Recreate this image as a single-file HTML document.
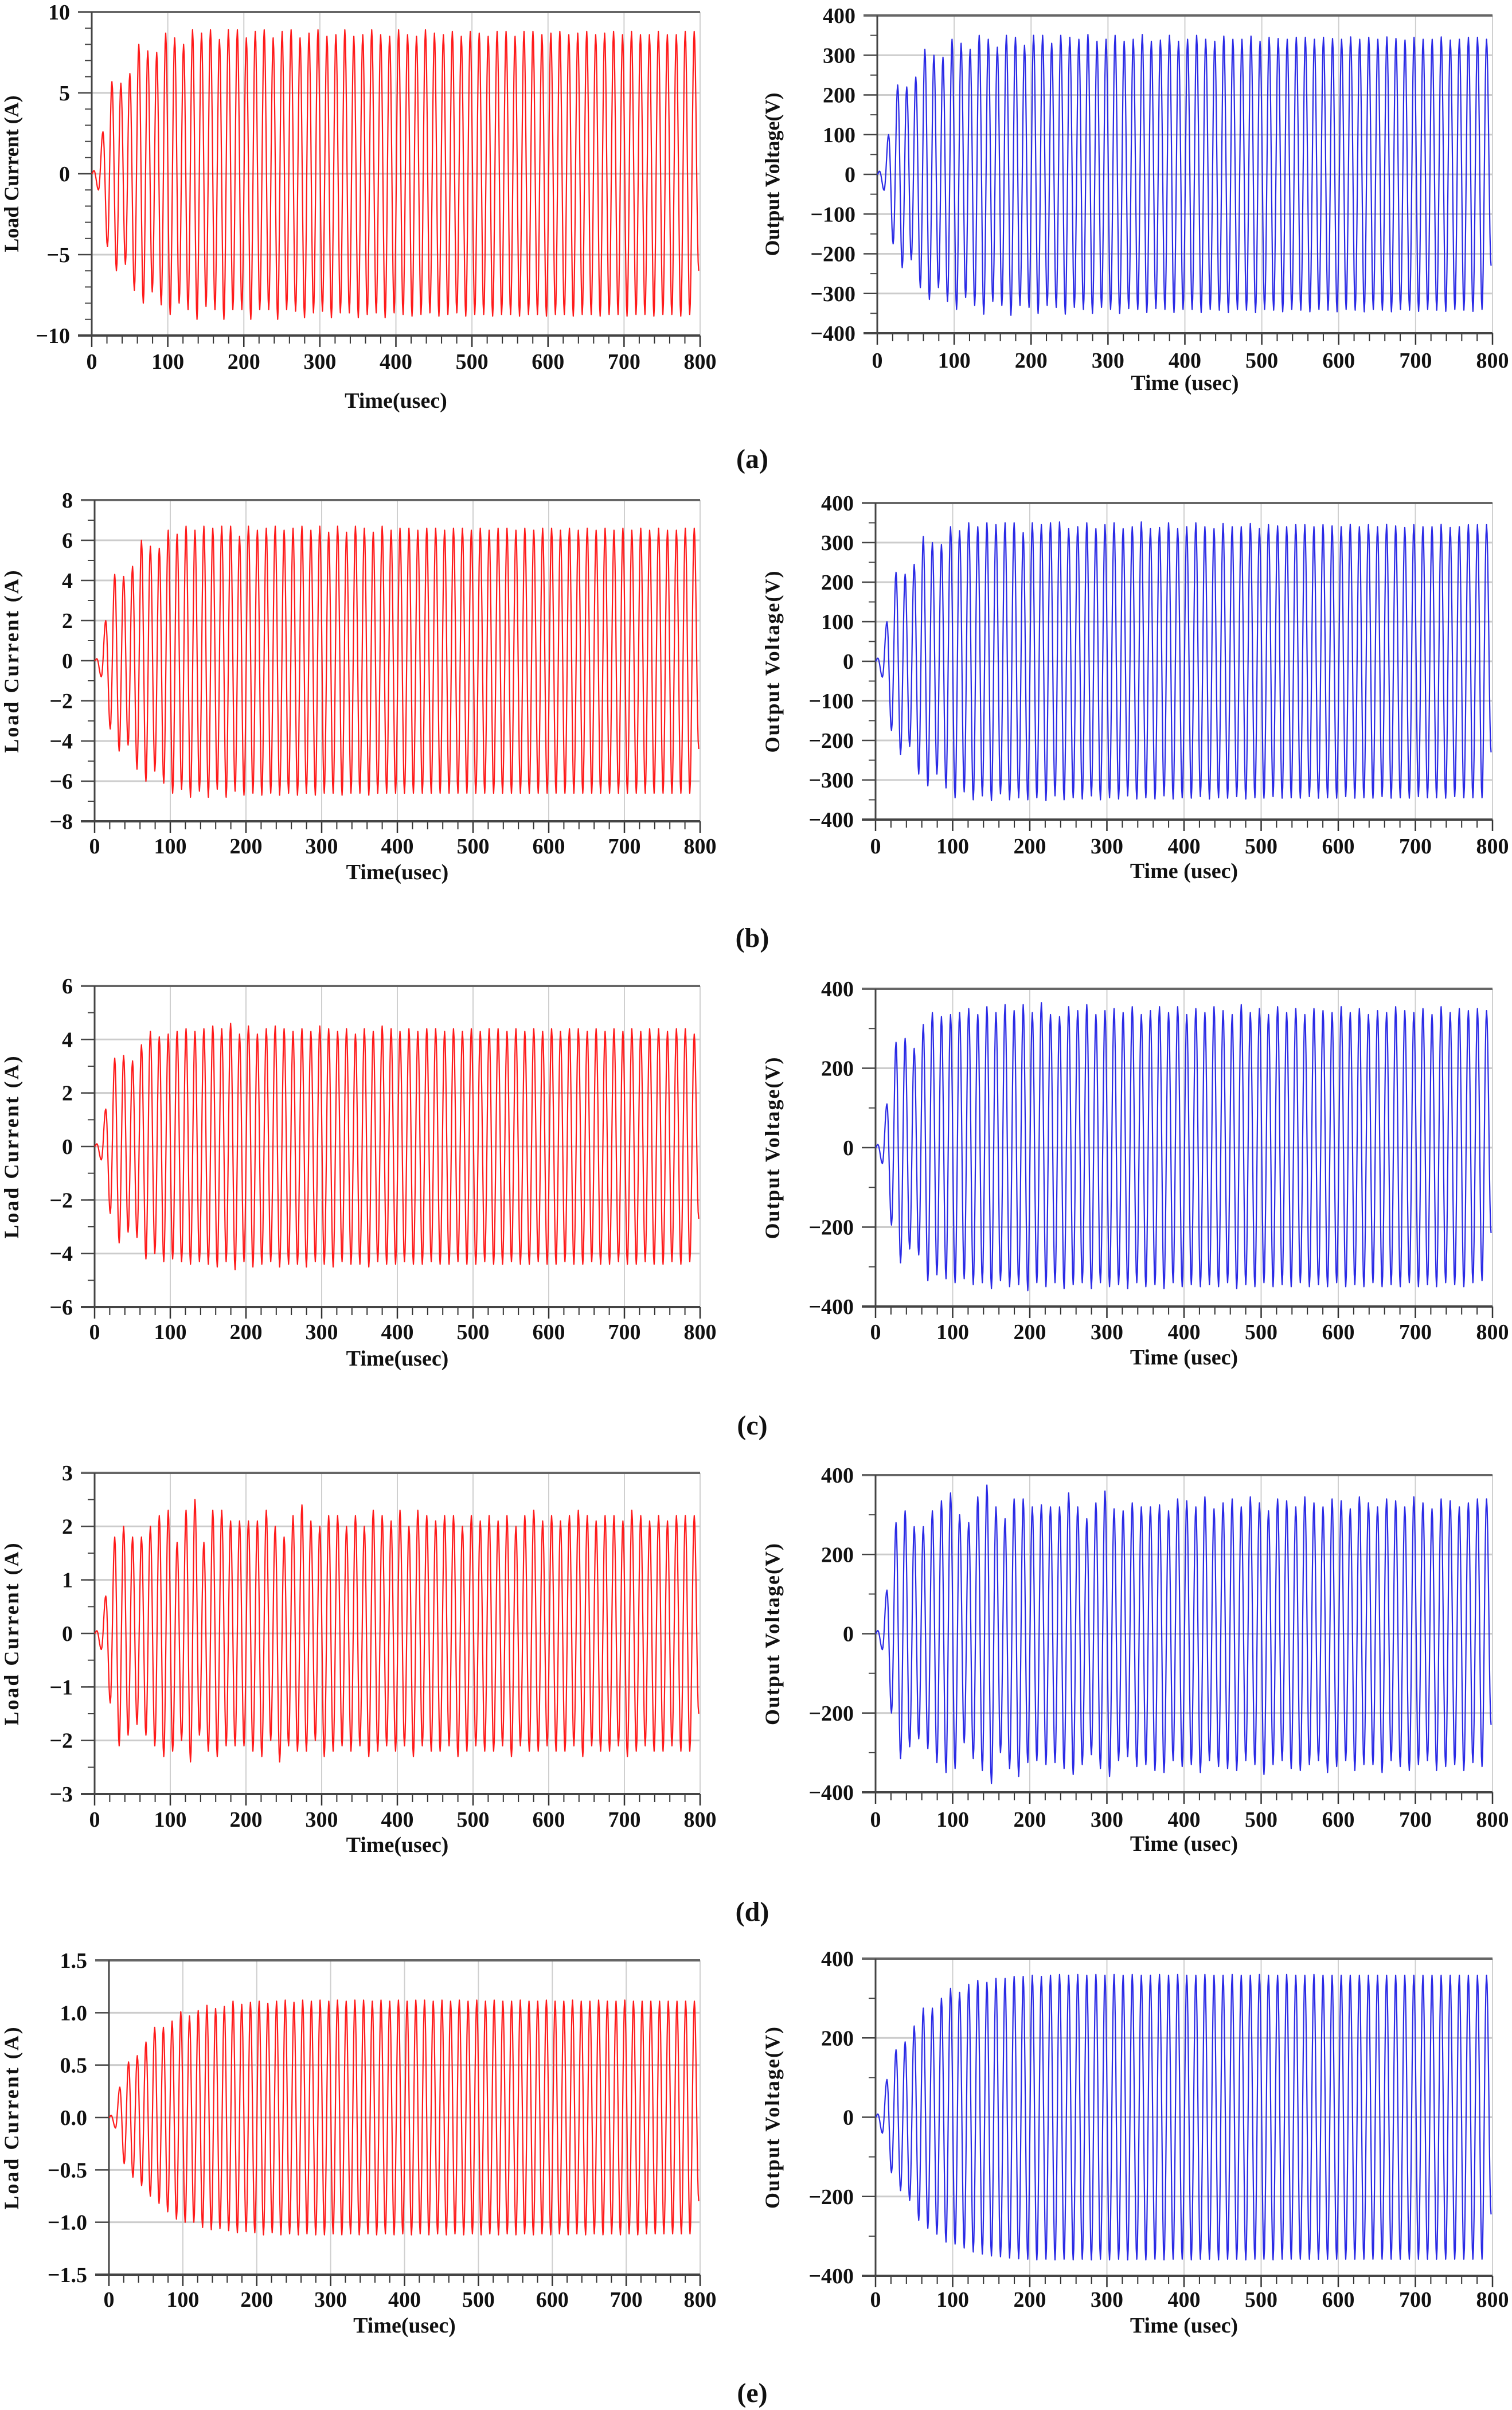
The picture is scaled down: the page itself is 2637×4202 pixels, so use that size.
<!DOCTYPE html>
<html><head><meta charset="utf-8"><style>
html,body{margin:0;padding:0;background:#fff;}
svg{display:block;}
text{font-family:"Liberation Serif",serif;font-weight:bold;fill:#111;}
</style></head><body>
<svg id="fig" width="2637" height="4202" viewBox="0 0 2637 4202" xmlns="http://www.w3.org/2000/svg"></svg>
<script>
// ---- data: per-cycle positive / negative peak values ----
const timeTicks = [0,100,200,300,400,500,600,700,800];
const aCurPos = [0.2,2.6,5.7,5.6,6.2,8.0,7.6,7.5,8.7,8.4,8.0,8.9,8.7,8.9,8.3,8.9,8.9,8.4,8.8,8.9,8.4,8.8,8.9,8.4,8.7,8.9,8.5,8.6,8.9,8.5,8.6,8.9,8.6,8.5,8.9,8.6,8.5,8.9,8.7,8.6,8.8,8.5,8.8,8.7,8.5,8.8,8.8,8.5,8.8,8.8,8.6,8.7,8.8,8.6,8.7,8.8,8.6,8.7,8.8,8.6,8.8,8.6,8.6,8.8,8.6,8.6,8.8,8.8];
const aCurNeg = [-1.0,-4.5,-6.0,-5.6,-7.2,-8.0,-7.3,-8.1,-8.7,-8.0,-8.4,-9.0,-8.2,-8.4,-9.0,-8.4,-8.4,-9.0,-8.4,-8.4,-9.0,-8.4,-8.5,-8.9,-8.6,-8.5,-8.9,-8.6,-8.6,-8.9,-8.7,-8.6,-8.9,-8.6,-8.7,-8.8,-8.7,-8.6,-8.8,-8.7,-8.6,-8.8,-8.7,-8.7,-8.8,-8.7,-8.7,-8.8,-8.7,-8.7,-8.8,-8.7,-8.7,-8.8,-8.7,-8.7,-8.8,-8.7,-8.7,-8.8,-8.7,-8.7,-8.8,-8.7,-8.7,-8.8,-8.7,-6.0];
const aVolPos = [8,100,225,220,245,315,300,295,340,330,315,350,340,320,350,345,325,350,350,330,350,345,340,352,335,340,350,335,340,352,335,338,350,335,340,350,340,335,348,340,340,348,335,345,342,340,345,345,340,345,342,340,346,340,345,340,346,342,338,345,340,340,346,338,340,345,345,340];
const aVolNeg = [-40,-175,-235,-215,-285,-315,-285,-320,-340,-310,-330,-352,-320,-330,-355,-330,-335,-350,-330,-335,-352,-335,-340,-350,-335,-340,-350,-338,-340,-348,-338,-340,-348,-340,-340,-348,-340,-342,-348,-340,-342,-348,-340,-342,-346,-340,-342,-346,-340,-342,-346,-340,-342,-346,-340,-342,-346,-340,-342,-345,-340,-342,-345,-340,-342,-345,-340,-230];
const bCurPos = [0.1,2.0,4.3,4.2,4.7,6.0,5.7,5.6,6.5,6.3,6.7,6.5,6.7,6.6,6.7,6.7,6.2,6.7,6.5,6.6,6.7,6.5,6.6,6.7,6.5,6.7,6.4,6.7,6.4,6.7,6.6,6.4,6.7,6.5,6.6,6.6,6.5,6.6,6.6,6.5,6.6,6.6,6.5,6.6,6.5,6.6,6.6,6.5,6.6,6.5,6.6,6.6,6.5,6.6,6.5,6.6,6.5,6.6,6.5,6.6,6.5,6.6,6.5,6.6,6.5,6.5,6.6,6.6];
const bCurNeg = [-0.8,-3.4,-4.5,-4.2,-5.4,-6.0,-5.5,-6.1,-6.6,-6.4,-6.8,-6.5,-6.8,-6.4,-6.8,-6.5,-6.7,-6.6,-6.7,-6.6,-6.7,-6.6,-6.7,-6.6,-6.7,-6.6,-6.6,-6.7,-6.6,-6.6,-6.7,-6.6,-6.6,-6.6,-6.6,-6.6,-6.6,-6.6,-6.6,-6.6,-6.6,-6.6,-6.6,-6.6,-6.6,-6.6,-6.6,-6.6,-6.6,-6.6,-6.6,-6.6,-6.6,-6.6,-6.6,-6.6,-6.6,-6.6,-6.6,-6.6,-6.6,-6.6,-6.6,-6.6,-6.6,-6.6,-6.6,-4.4];
const bVolPos = [8,100,225,220,245,315,300,295,340,330,350,340,350,345,350,350,325,350,345,350,352,335,340,350,335,345,350,335,340,352,335,338,350,335,340,350,340,335,348,340,340,348,335,345,342,340,345,345,340,345,342,340,346,340,345,340,346,342,338,345,340,340,346,338,340,345,345,345];
const bVolNeg = [-40,-175,-235,-215,-285,-315,-285,-320,-345,-330,-350,-340,-352,-335,-350,-345,-350,-345,-352,-340,-350,-345,-348,-340,-350,-345,-348,-340,-348,-345,-348,-340,-348,-345,-346,-342,-348,-345,-346,-342,-348,-345,-346,-342,-346,-345,-346,-342,-346,-345,-346,-342,-346,-345,-346,-342,-346,-345,-346,-342,-345,-345,-346,-342,-345,-345,-345,-230];
const cCurPos = [0.1,1.4,3.3,3.4,3.2,3.8,4.3,4.1,4.2,4.3,4.4,4.3,4.4,4.5,4.4,4.6,4.2,4.5,4.2,4.4,4.5,4.4,4.3,4.4,4.3,4.5,4.4,4.3,4.4,4.2,4.4,4.3,4.5,4.4,4.3,4.4,4.3,4.4,4.4,4.3,4.4,4.3,4.4,4.3,4.4,4.4,4.3,4.4,4.3,4.4,4.3,4.4,4.3,4.4,4.4,4.3,4.4,4.3,4.4,4.3,4.4,4.3,4.4,4.4,4.3,4.4,4.4,4.2];
const cCurNeg = [-0.5,-2.5,-3.6,-3.2,-3.4,-4.2,-4.0,-4.3,-4.2,-4.3,-4.4,-4.3,-4.4,-4.5,-4.3,-4.6,-4.3,-4.5,-4.4,-4.3,-4.5,-4.4,-4.4,-4.5,-4.3,-4.4,-4.5,-4.3,-4.4,-4.4,-4.5,-4.3,-4.4,-4.4,-4.3,-4.4,-4.4,-4.3,-4.4,-4.4,-4.3,-4.4,-4.4,-4.3,-4.4,-4.4,-4.3,-4.4,-4.4,-4.3,-4.4,-4.4,-4.3,-4.4,-4.4,-4.3,-4.4,-4.4,-4.3,-4.4,-4.4,-4.3,-4.4,-4.4,-4.3,-4.4,-4.3,-2.7];
const cVolPos = [8,110,265,275,250,310,340,330,335,340,350,335,355,340,360,345,360,340,365,335,330,355,345,360,335,345,350,340,355,335,345,355,340,355,335,350,340,355,345,335,360,340,350,335,355,340,350,335,350,345,340,355,340,350,335,345,340,355,345,340,350,335,355,340,350,345,350,345];
const cVolNeg = [-40,-195,-290,-255,-270,-335,-320,-330,-340,-330,-345,-340,-355,-335,-350,-345,-360,-340,-350,-340,-355,-345,-340,-355,-340,-350,-345,-355,-340,-350,-345,-355,-340,-350,-345,-350,-345,-350,-340,-355,-345,-350,-340,-350,-345,-350,-340,-350,-345,-350,-340,-350,-345,-350,-340,-350,-345,-350,-340,-350,-345,-350,-340,-345,-350,-340,-335,-215];
const dCurPos = [0.05,0.7,1.8,2.0,1.8,1.8,2.0,2.2,2.3,1.7,2.3,2.5,1.7,2.3,2.3,2.1,2.1,2.1,2.1,2.3,2.0,1.8,2.2,2.4,2.1,2.0,2.2,2.2,2.0,2.2,2.0,2.3,2.2,2.1,2.3,2.0,2.3,2.2,2.1,2.2,2.2,2.0,2.2,2.1,2.2,2.1,2.2,2.0,2.2,2.3,2.1,2.2,2.1,2.2,2.3,2.2,2.1,2.2,2.2,2.1,2.3,2.2,2.1,2.2,2.1,2.2,2.2,2.2];
const dCurNeg = [-0.3,-1.3,-2.1,-1.9,-1.7,-1.9,-2.1,-2.3,-2.2,-2.0,-2.4,-1.9,-2.2,-2.3,-2.1,-2.1,-2.1,-2.2,-2.3,-2.0,-2.4,-2.1,-2.2,-2.2,-2.0,-2.3,-2.2,-2.1,-2.2,-2.1,-2.3,-2.2,-2.1,-2.2,-2.1,-2.3,-2.1,-2.2,-2.2,-2.1,-2.3,-2.2,-2.1,-2.2,-2.2,-2.1,-2.3,-2.1,-2.2,-2.2,-2.1,-2.2,-2.2,-2.1,-2.3,-2.1,-2.2,-2.2,-2.1,-2.3,-2.2,-2.1,-2.2,-2.2,-2.1,-2.2,-2.2,-1.5];
const dVolPos = [8,110,280,310,270,270,310,335,355,300,280,345,375,320,290,340,340,320,325,320,320,355,320,290,330,360,315,310,330,320,320,325,310,340,335,320,345,315,330,340,320,345,330,310,340,335,320,345,330,320,340,335,315,345,330,320,340,335,320,345,330,315,340,335,320,330,340,340];
const dVolNeg = [-40,-200,-315,-285,-265,-290,-325,-350,-340,-275,-315,-345,-378,-300,-340,-360,-325,-320,-330,-325,-340,-355,-330,-305,-340,-360,-320,-310,-335,-330,-345,-350,-320,-335,-330,-350,-320,-335,-340,-345,-320,-330,-355,-330,-320,-340,-345,-330,-320,-350,-335,-320,-345,-330,-330,-350,-320,-335,-345,-330,-320,-345,-335,-330,-345,-325,-335,-230];
const eCurPos = [0.02,0.29,0.53,0.59,0.72,0.86,0.86,0.92,1.01,0.97,1.02,1.07,1.04,1.06,1.11,1.08,1.1,1.11,1.09,1.11,1.12,1.1,1.12,1.11,1.12,1.11,1.12,1.11,1.12,1.12,1.11,1.12,1.11,1.12,1.11,1.12,1.12,1.11,1.12,1.11,1.12,1.11,1.12,1.11,1.12,1.11,1.11,1.12,1.11,1.11,1.12,1.11,1.11,1.12,1.11,1.11,1.12,1.11,1.11,1.12,1.11,1.11,1.11,1.11,1.11,1.11,1.11,1.11];
const eCurNeg = [-0.1,-0.44,-0.57,-0.65,-0.75,-0.82,-0.9,-0.97,-1.0,-1.0,-1.05,-1.07,-1.06,-1.08,-1.1,-1.09,-1.1,-1.12,-1.1,-1.12,-1.11,-1.12,-1.11,-1.12,-1.12,-1.11,-1.12,-1.11,-1.12,-1.11,-1.12,-1.11,-1.12,-1.11,-1.12,-1.11,-1.12,-1.11,-1.12,-1.11,-1.12,-1.11,-1.12,-1.11,-1.12,-1.11,-1.12,-1.11,-1.12,-1.11,-1.12,-1.11,-1.12,-1.11,-1.12,-1.11,-1.12,-1.11,-1.12,-1.11,-1.12,-1.11,-1.11,-1.11,-1.11,-1.11,-1.11,-0.8];
const eVolPos = [8,95,170,190,230,275,275,300,325,315,335,345,340,350,350,355,355,358,355,358,360,358,360,358,360,358,360,358,360,358,358,360,358,360,358,358,360,358,358,360,358,358,360,358,358,360,358,358,360,358,358,358,358,358,358,358,358,358,358,358,358,358,358,358,358,358,358,358];
const eVolNeg = [-40,-140,-185,-210,-260,-280,-295,-315,-320,-330,-340,-345,-350,-352,-355,-357,-358,-360,-358,-360,-358,-360,-358,-360,-358,-360,-358,-360,-358,-360,-358,-360,-358,-358,-360,-358,-358,-360,-358,-358,-360,-358,-358,-360,-358,-358,-358,-358,-358,-358,-358,-358,-358,-358,-358,-358,-358,-358,-358,-358,-358,-358,-358,-358,-358,-358,-358,-245];

const NS = "http://www.w3.org/2000/svg";
const svg = document.getElementById('fig');
function mk(tag, attrs, parent){
  const e = document.createElementNS(NS, tag);
  for (const k in attrs) e.setAttribute(k, attrs[k]);
  (parent||svg).appendChild(e);
  return e;
}
const T0 = 3, PER = 11.78;

function chart(cfg, pos, neg){
  const g = mk('g', {});
  
  
  const xs = t => cfg.l + (t/800)*(cfg.r-cfg.l);
  const ys = v => cfg.b - (v-cfg.ymin)/(cfg.ymax-cfg.ymin)*(cfg.b-cfg.t);
  // grid
  for (const t of timeTicks){
    if (t===0||t===800) continue;
    const gl = mk('line',{x1:xs(t),x2:xs(t),y1:cfg.t,y2:cfg.b,stroke:'#cfcfcf','stroke-width':2},g);
    
    
  }
  const ny = Math.round((cfg.ymax-cfg.ymin)/cfg.step);
  for (let i=0;i<=ny;i++){
    const v = cfg.ymin + i*cfg.step;
    if (i>0 && i<ny){
      const hl = mk('line',{x1:cfg.l,x2:cfg.r,y1:ys(v),y2:ys(v),stroke:'#cccccc','stroke-width':3},g);
      
      
    }
    mk('line',{x1:cfg.l-24,x2:cfg.l,y1:ys(v),y2:ys(v),stroke:'#444','stroke-width':2.5},g);
    const lab = cfg.dec ? v.toFixed(cfg.dec) : String(Math.round(v));
    const tx = mk('text',{x:cfg.l-38,y:ys(v)+13,'text-anchor':'end','font-size':38},g);
    tx.textContent = lab.replace('-', '\u2212');
    
    
  }
  if (cfg.minor){
    const nm = Math.round((cfg.ymax-cfg.ymin)/cfg.minor);
    for (let i=0;i<=nm;i++){
      const v = cfg.ymin + i*cfg.minor;
      mk('line',{x1:cfg.l-12,x2:cfg.l,y1:ys(v),y2:ys(v),stroke:'#444','stroke-width':2},g);
    }
  }
  // x ticks
  for (let t=0;t<=800;t+=20){
    const major = t%100===0;
    mk('line',{x1:xs(t),x2:xs(t),y1:cfg.b,y2:cfg.b+(major?20:14),stroke:'#333','stroke-width':major?2.5:2},g);
  }
  for (const t of timeTicks){
    const tx = mk('text',{x:xs(t),y:cfg.lab+13,'text-anchor':'middle','font-size':38},g);
    tx.textContent = String(t);
    
    
  }
  // frame
  mk('line',{x1:cfg.r,x2:cfg.r,y1:cfg.t,y2:cfg.b,stroke:'#d0d0d0','stroke-width':2},g);
  mk('line',{x1:cfg.l-24,x2:cfg.r,y1:cfg.t,y2:cfg.t,stroke:'#666','stroke-width':4},g);
  mk('line',{x1:cfg.l,x2:cfg.l,y1:cfg.t,y2:cfg.b,stroke:'#444','stroke-width':3},g);
  mk('line',{x1:cfg.l-24,x2:cfg.r,y1:cfg.b,y2:cfg.b,stroke:'#444','stroke-width':4},g);
  // curve
  const ext = [[0,0]];
  for (let k=0;k<pos.length;k++){
    ext.push([T0+k*PER, pos[k]]);
    if (k<neg.length) ext.push([T0+k*PER+PER/2, neg[k]]);
  }
  let d = 'M'+xs(0).toFixed(1)+','+ys(0).toFixed(1);
  outer:
  for (let i=1;i<ext.length;i++){
    const [ta,va]=ext[i-1],[tb,vb]=ext[i];
    for (let s=1;s<=8;s++){
      const f=s/8, t=ta+(tb-ta)*f;
      const v=va+(vb-va)*(1-Math.cos(Math.PI*f))/2;
      if (t>800){ d+=' L'+xs(800).toFixed(1)+','+ys(v).toFixed(1); break outer; }
      d+=' L'+xs(t).toFixed(1)+','+ys(v).toFixed(1);
    }
  }
  const p = mk('path',{d:d,fill:'none',stroke:cfg.color,'stroke-width':2.2,'stroke-linejoin':'round'},g);
  
  
  // titles
  const xt = mk('text',{x:(cfg.l+cfg.r)/2,y:cfg.xt+13,'text-anchor':'middle','font-size':38},g);
  xt.textContent = cfg.xtitle;
  
  
  const cy=(cfg.t+cfg.b)/2;
  const yt = mk('text',{x:cfg.ytx,y:cy,'text-anchor':'middle','font-size':36,transform:'rotate(-90 '+cfg.ytx+' '+cy+')','dominant-baseline':'central','letter-spacing':cfg.ls||0},g);
  yt.textContent = cfg.ytitle;
  
  
}

const rows = [
 {k:'a',cap:800, L:{l:160,r:1221,t:21,b:585,ymin:-10,ymax:10,step:5,minor:1,lab:630,xt:698}, R:{l:1530,r:2603,t:27,b:581,ymin:-400,ymax:400,step:100,minor:50,lab:628,xt:667}, cur:[aCurPos,aCurNeg], vol:[aVolPos,aVolNeg]},
 {k:'b',cap:1635, L:{l:165,r:1221,t:872,b:1432,ymin:-8,ymax:8,step:2,minor:1,lab:1475,xt:1520}, R:{l:1527,r:2603,t:877,b:1429,ymin:-400,ymax:400,step:100,minor:50,lab:1475,xt:1518}, cur:[bCurPos,bCurNeg], vol:[bVolPos,bVolNeg]},
 {k:'c',cap:2485, L:{l:165,r:1221,t:1719,b:2279,ymin:-6,ymax:6,step:2,minor:1,lab:2322,xt:2368}, R:{l:1527,r:2603,t:1724,b:2278,ymin:-400,ymax:400,step:200,minor:100,lab:2322,xt:2366}, cur:[cCurPos,cCurNeg], vol:[cVolPos,cVolNeg]},
 {k:'d',cap:3333, L:{l:165,r:1221,t:2568,b:3128,ymin:-3,ymax:3,step:1,minor:0.5,lab:3172,xt:3216}, R:{l:1527,r:2603,t:2572,b:3125,ymin:-400,ymax:400,step:200,minor:100,lab:3172,xt:3214}, cur:[dCurPos,dCurNeg], vol:[dVolPos,dVolNeg]},
 {k:'e',cap:4172, L:{l:190,r:1221,t:3418,b:3966,ymin:-1.5,ymax:1.5,step:0.5,minor:0,dec:1,lab:4009,xt:4054}, R:{l:1527,r:2603,t:3415,b:3968,ymin:-400,ymax:400,step:200,minor:100,lab:4009,xt:4054}, cur:[eCurPos,eCurNeg], vol:[eVolPos,eVolNeg]}
];
for (const r of rows){
  const L = Object.assign({name:'load-current-chart-'+r.k, series:'load-current-line', color:'#ff1a1a', xtitle:'Time(usec)', ytitle:'Load Current (A)', ytx:20, ls: r.k==='a'?0:3}, r.L);
  chart(L, r.cur[0], r.cur[1]);
  const R = Object.assign({name:'output-voltage-chart-'+r.k, series:'output-voltage-line', color:'#2a2ae6', xtitle:'Time (usec)', ytitle:'Output Voltage(V)', ytx:1347, ls: r.k==='a'?0:2}, r.R);
  chart(R, r.vol[0], r.vol[1]);
  const c = mk('text',{x:1312,y:r.cap+16,'text-anchor':'middle','font-size':48});
  c.textContent = '('+r.k+')';
  
  
}
</script>
</body></html>
